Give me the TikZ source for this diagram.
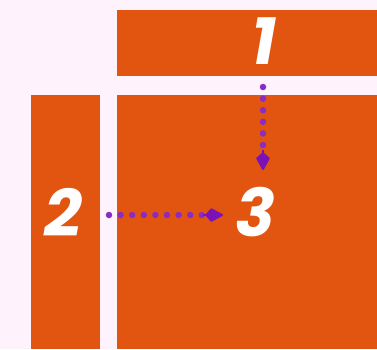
\documentclass[tikz,border=0pt]{standalone}
\usepackage{fontspec}
\setsansfont{Poppins}
\usetikzlibrary{arrows.meta}

\definecolor{pagebg}{HTML}{FEF2FC}
\definecolor{blockorange}{HTML}{E25511}
\definecolor{dotpurple}{HTML}{8A2CC2}
\definecolor{tippurple}{HTML}{7A12B8}

\tikzset{
  block/.style={fill=blockorange, draw=none, inner sep=0pt},
  digit/.style={text=white, font=\sffamily\bfseries\itshape\fontsize{66}{66}\selectfont, inner sep=0pt},
  dotline/.style={dotpurple, line width=6.5pt, line cap=round, dash pattern=on 0pt off 11.6pt},
  tipline/.style={tippurple, line width=2pt, solid,
    -{Kite[length=19pt,width=14pt,inset=6pt,round,line width=2pt]}},
}

\begin{document}
\begin{tikzpicture}[x=1pt,y=-1pt]

% page
\fill[pagebg] (0,0) rectangle (377,349);
\useasboundingbox (0,0) rectangle (377,349);

% blocks
\node[block, minimum width=260pt, minimum height=66pt] (blockone) at (247,43) {};
\node[block, minimum width=69pt, minimum height=254pt] (blocktwo) at (65.5,222) {};
\node[block, minimum width=260pt, minimum height=254pt] (blockthree) at (247,222) {};

% numbers
\node[digit] (one) at (264,41) {1};
\node[digit] (two) at (63,212) {2};
\node[digit] (three) at (255,212) {3};

% dotted arrows
\coordinate (downstart) at (263,87);
\coordinate (downdots) at (263,146);
\coordinate (downtip) at (263,150);
\coordinate (downend) at (263,170);
\coordinate (rightstart) at (109,215);
\coordinate (rightdots) at (202,215);
\coordinate (righttip) at (203,215);
\coordinate (rightend) at (223,215);
\draw[dotline] (downstart) -- (downdots);
\draw[tipline] (downtip) -- (downend);
\draw[dotline] (rightstart) -- (rightdots);
\draw[tipline] (righttip) -- (rightend);

\end{tikzpicture}
\end{document}
